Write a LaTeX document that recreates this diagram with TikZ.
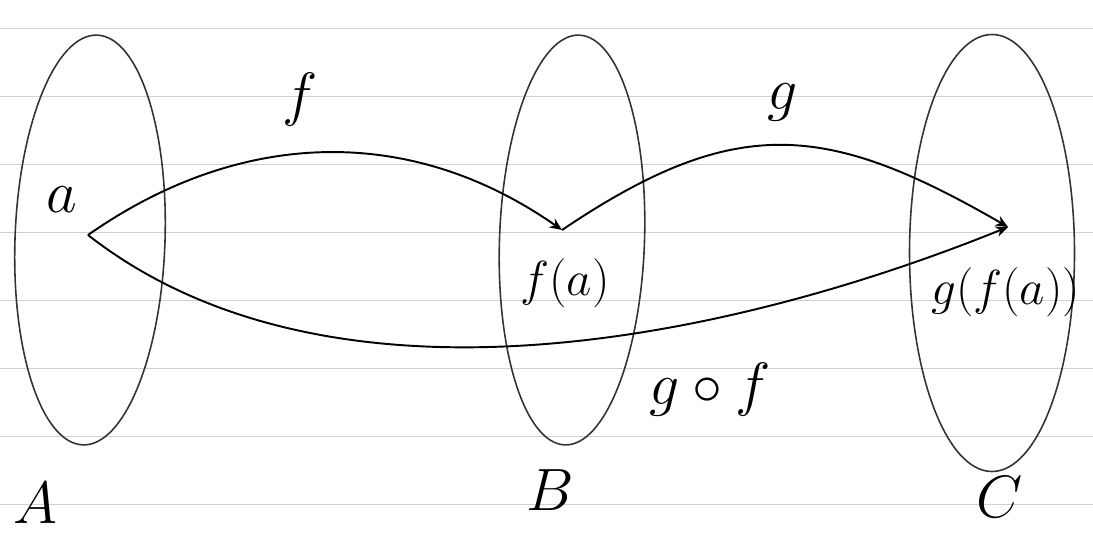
\RequirePackage{fix-cm}
\documentclass[tikz,border=0pt]{standalone}
\usepackage{amsmath}
\usepackage{amssymb}
\usepackage{tikz}
\usetikzlibrary{shapes.geometric, arrows.meta, positioning, calc}

\tikzset{
    rule/.style={black!18, line width=0.5pt},
    set/.style={draw=black!80, ellipse, inner sep=0pt, line width=0.9pt},
    map/.style={line width=1.1pt, -{Stealth[length=7pt, width=6pt]}},
    bigtxt/.style={font=\fontsize{34}{40}\selectfont},
    midtxt/.style={font=\fontsize{28}{32}\selectfont},
}

\begin{document}
\begin{tikzpicture}
    \useasboundingbox (0,0) rectangle (21.86,-10.76);

    % ruled paper
    \foreach \y in {0,...,7}
        \draw[rule] (0,{-0.56-1.36*\y}) -- ++(21.86,0);

    % Sets
    \node[set, minimum width=3cm, minimum height=8.2cm, rotate=-2] (setA) at (1.8,-4.8) {};
    \node[set, minimum width=2.9cm, minimum height=8.2cm, rotate=-2] (setB) at (11.44,-4.8) {};
    \node[set, minimum width=3.3cm, minimum height=8.74cm] (setC) at (19.84,-5.06) {};

    \node[bigtxt] (labA) at (0.7,-10.06) {$A$};
    \node[bigtxt] (labB) at (11.0,-9.8) {$B$};
    \node[bigtxt] (labC) at (20.0,-9.95) {$C$};

    % Elements
    \coordinate (a) at (1.76,-4.70);
    \coordinate (fa) at (11.24,-4.60);
    \coordinate (gfa) at (20.16,-4.54);

    \node[bigtxt] (laba) at (1.24,-4.0) {$a$};
    \node[midtxt] (labfa) at (11.3,-5.66) {$f(a)$};
    \node[midtxt, anchor=west] (labgfa) at (18.5,-5.85) {$g(f(a))$};

    % Maps
    \draw[map] (a) to[out=35, in=145] (fa);
    \draw[map] (fa) to[out=34, in=150, looseness=1.2] (gfa);
    \draw[map] (a) to[out=-38, in=202, looseness=0.85] (gfa);

    \node[bigtxt] (labf) at (6.0,-2.0) {$f$};
    \node[bigtxt] (labg) at (15.66,-2.04) {$g$};
    \node[bigtxt] (labgf) at (14.2,-7.8) {$g\circ f$};
\end{tikzpicture}
\end{document}
